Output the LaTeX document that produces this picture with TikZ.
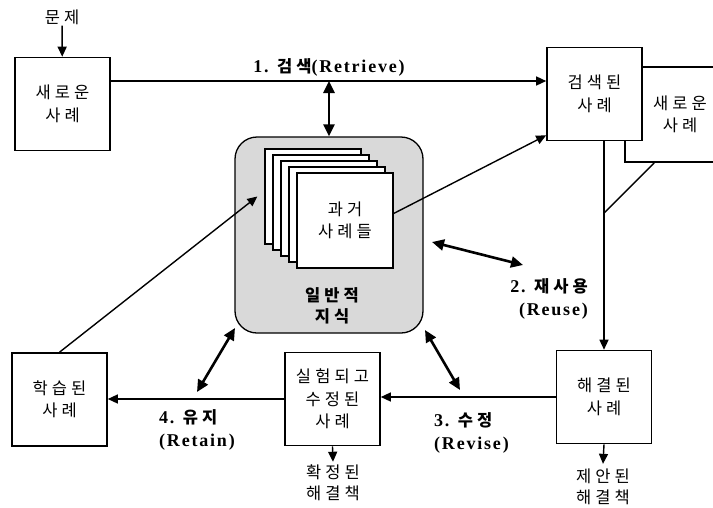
\documentclass[tikz,border=0pt]{standalone}
\usepackage{fontspec}
\setmainfont{Liberation Serif}
\newfontfamily\kr[LetterSpace=25]{Noto Sans CJK KR}
\newfontfamily\rom[LetterSpace=10]{Liberation Serif}
\usetikzlibrary{positioning,arrows.meta}
\newcommand\hg[1]{{\kr\fontsize{16.5}{23}\selectfont #1}}

\begin{document}
\begin{tikzpicture}[
    x=1pt, y=-1pt,
    casebox/.style={draw=black, line width=1.6pt, fill=white, minimum width=95pt, minimum height=93pt, align=center, font=\kr\fontsize{16.5}{22.5}\selectfont, inner sep=2pt},
    sheet/.style={casebox, minimum width=96pt, minimum height=95pt, line width=1.3pt},
    know/.style={draw=black, line width=1.3pt, fill=black!15, rounded corners=22pt, minimum width=188pt, minimum height=196pt},
    plain/.style={align=center, font=\kr\fontsize{16.5}{21}\selectfont, inner sep=1pt},
    proc/.style={font=\rom\fontsize{18}{23}\selectfont\bfseries, inner sep=0pt},
    flow/.style={line width=1.4pt, -{Triangle[length=10pt,width=9pt]}},
    link/.style={line width=1.4pt},
    both/.style={line width=2.6pt, {Triangle[length=12pt,width=11pt]}-{Triangle[length=12pt,width=11pt]}},
]
\useasboundingbox (0,0) rectangle (713,507);

% knowledge base in the middle
\node[know] (know) at (329,235) {};
\foreach \k in {4,...,1}
  \node[sheet] (sheet\k) at ({345-8*\k},{220.5-6*\k}) {};
\node[sheet] (sheet0) at (345,220.5) {과거\\사례들};
\node[plain] (general) at (332,306) {\bfseries 일반적\\\bfseries 지식};

% cases
\node[plain] (problem) at (62,17) {문제};
\node[casebox] (newcase) at (62.5,104) {새로운\\사례};
\node[casebox, minimum width=110pt, minimum height=95pt] (newcase2) at (680,114.5) {새로운\\사례};
\node[casebox] (retrieved) at (594.5,94) {검색된\\사례};
\node[casebox] (solved) at (604,397) {해결된\\사례};
\node[casebox] (revised) at (332.5,399) {실험되고\\수정된\\사례};
\node[casebox] (learned) at (59.5,399.5) {학습된\\사례};
\node[plain] (suggested) at (603,487) {제안된\\해결책};
\node[plain] (confirmed) at (333,483) {확정된\\해결책};

% step labels
\node[proc] (lbl1) at (329,67) {1. \hg{검색}(Retrieve)};
\node[proc, anchor=east, align=right] (lbl2) at (588,299) {2. \hg{재사용}\\(Reuse)};
\node[proc, anchor=west, align=left] (lbl3) at (434,433) {3. \hg{수정}\\(Revise)};
\node[proc, anchor=west, align=left] (lbl4) at (159,430) {4. \hg{유지}\\(Retain)};

% connectors
\draw[flow] (problem) -- (newcase);
\coordinate (rtop) at ([yshift=23pt]newcase.east);
\draw[flow] (rtop) -- (rtop -| retrieved.west);
\draw[both] (know.north) -- (know.north |- rtop);
\draw[flow] ([yshift=7pt]sheet0.east) -- ([yshift=6pt]retrieved.south west);
\coordinate (split) at (solved.north |- 0,213);
\draw[flow] (retrieved.south -| solved.north) -- (solved.north);
\draw[link] ([xshift=30pt]newcase2.south west) -- (split);
\draw[flow] (solved.south) -- ([yshift=4pt]suggested.north);
\draw[flow] (solved.west) -- (solved.west -| revised.east);
\draw[flow] (revised.south) -- ([yshift=2pt]confirmed.north);
\draw[flow] (revised.west) -- (revised.west -| learned.east);
\draw[flow] (learned.north) -- ([xshift=-7pt]sheet4.west);

% double arrows to the knowledge base
\coordinate (reuseA) at (432,242);
\coordinate (reuseB) at (523,265);
\coordinate (reviseA) at (425,330);
\coordinate (reviseB) at (460,390);
\coordinate (retainA) at (235,328);
\coordinate (retainB) at (197,392);
\draw[both] (reuseA) -- (reuseB);
\draw[both] (reviseA) -- (reviseB);
\draw[both] (retainA) -- (retainB);
\end{tikzpicture}
\end{document}
